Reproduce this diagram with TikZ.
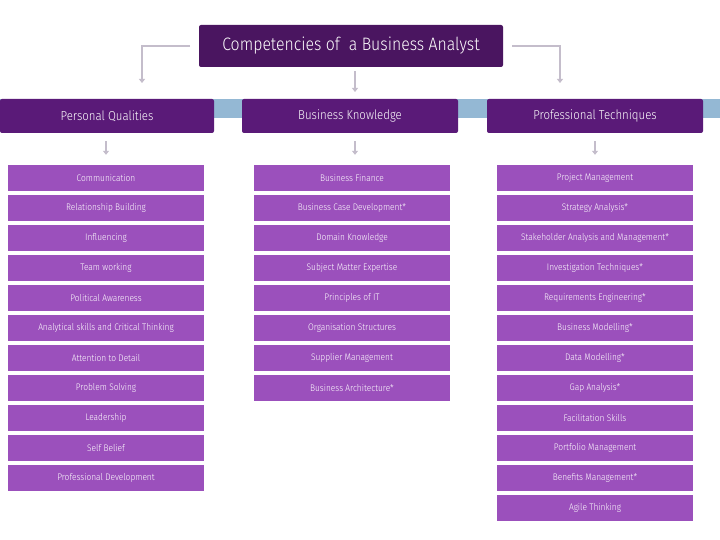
\documentclass[tikz,border=0pt]{standalone}
\usepackage{fontspec}
\setmainfont{Fira Sans Light}[FakeStretch=0.88]
\usetikzlibrary{arrows.meta}
\definecolor{titlec}{HTML}{4A1560}
\definecolor{headc}{HTML}{5A1A78}
\definecolor{bandc}{HTML}{94B8D4}
\definecolor{itemc}{HTML}{9B50BC}
\definecolor{arrc}{HTML}{C4BDCB}
\begin{document}
\begin{tikzpicture}[x=1pt,y=-1pt,
  titlebox/.style={fill=titlec,text=white,rounded corners=2pt,minimum width=304pt,minimum height=42pt,inner sep=0pt,font=\fontsize{18}{20}\selectfont},
  headbox/.style={fill=headc,text=white,rounded corners=2pt,minimum width=216pt,minimum height=34pt,inner sep=0pt,font=\fontsize{13}{15}\selectfont},
  itembox/.style={fill=itemc,text=white,minimum width=196pt,minimum height=26pt,inner sep=0pt,font=\fontsize{9.5}{11}\selectfont},
  conn/.style={draw=arrc,line width=2.2pt,-{Triangle[length=4pt,width=6pt]}}]
\useasboundingbox (0,0) rectangle (720,540);
\fill[white] (0,0) rectangle (720,540);
% band
\fill[bandc] (0,99) rectangle (720,118);
% title
\node[titlebox] (title) at (351,46) {Competencies of\ \ a Business Analyst};
% headers
\node[headbox,minimum width=214pt] (h1) at (107,116) {Personal Qualities};
\node[headbox] (h2) at (350,116) {Business Knowledge};
\node[headbox] (h3) at (595,116) {Professional Techniques};
% connectors from title
\coordinate (tl) at (190,46);
\coordinate (tr) at (512,46);
\coordinate (al) at (142,83);
\coordinate (ar) at (560,83);
\coordinate (am) at (355,92);
\draw[conn] (tl) -| (al);
\draw[conn] (tr) -| (ar);
\draw[conn] (title.south -| am) ++(0,4) -- (am);
% column 1
\foreach \t [count=\i] in {Communication,Relationship Building,Influencing,Team working,Political Awareness,Analytical skills and Critical Thinking,Attention to Detail,Problem Solving,Leadership,Self Belief,Professional Development}
  \node[itembox] (a\i) at (106,{178+30*(\i-1)}) {\t};
\foreach \t [count=\i] in {Business Finance,Business Case Development*,Domain Knowledge,Subject Matter Expertise,Principles of IT,Organisation Structures,Supplier Management,Business Architecture*}
  \node[itembox] (b\i) at (352,{178+30*(\i-1)}) {\t};
\foreach \t [count=\i] in {Project Management,Strategy Analysis*,Stakeholder Analysis and Management*,Investigation Techniques*,Requirements Engineering*,Business Modelling*,Data Modelling*,Gap Analysis*,Facilitation Skills,Portfolio Management,Benefits Management*,Agile Thinking}
  \node[itembox] (c\i) at (595,{178+30*(\i-1)}) {\t};
% small arrows
\draw[conn,line width=1.6pt] ([yshift=-8pt]h1.south -| a1.north) -- ([yshift=10pt]a1.north);
\draw[conn,line width=1.6pt] ([yshift=-8pt]h2.south -| am) -- ([yshift=10pt]b1.north -| am);
\draw[conn,line width=1.6pt] ([yshift=-8pt]h3.south -| c1.north) -- ([yshift=10pt]c1.north);
\end{tikzpicture}
\end{document}
